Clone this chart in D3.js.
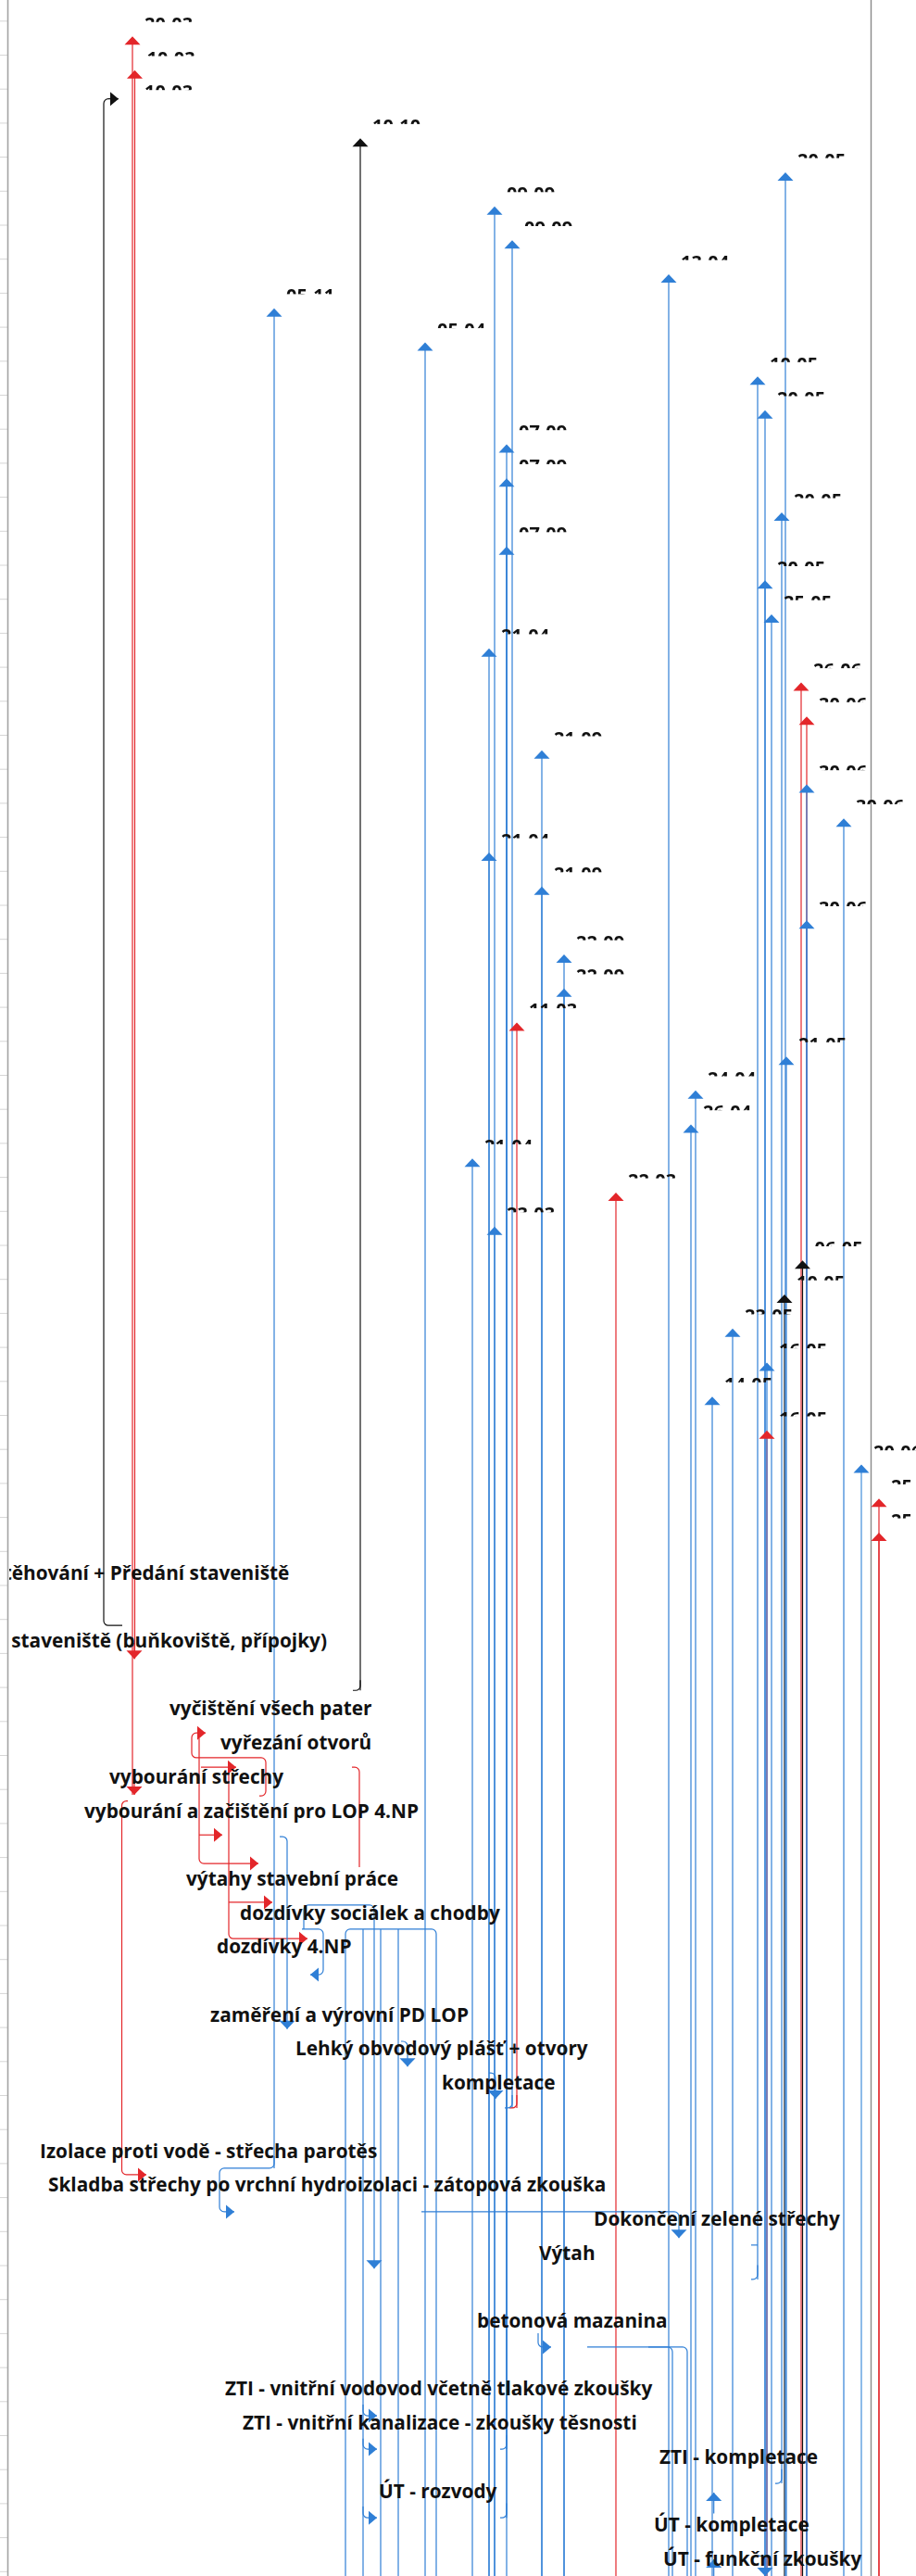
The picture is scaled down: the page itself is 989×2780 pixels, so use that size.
<!DOCTYPE html>
<html>
<head>
<meta charset="utf-8">
<title>Harmonogram - vazby</title>
<script src="https://cdnjs.cloudflare.com/ajax/libs/d3/7.8.5/d3.min.js"></script>
<style>
  body { margin: 0; background: #fff; }
  svg { display: block; }
  text { font-family: "Open Sans", "Noto Sans", sans-serif; font-weight: 700; fill: #111; }
</style>
</head>
<body>
<svg id="chart" width="989" height="2780"></svg>
<script>
// finish dates shown next to the milestone rows (top part of the sheet)
const msDates = ["20-03", "10-03", "10-03", "10-10", "20-05", "09-09", "09-09", "13-04", "05-11", "05-04",
  "10-05", "20-05", "07-09", "07-09", "20-05", "07-09", "20-05", "25-05", "21-04", "26-06",
  "30-06", "21-09", "30-06", "30-06", "21-04", "21-09", "30-06", "22-09", "22-09", "11-03",
  "21-05", "24-04", "26-04", "21-04", "22-03", "23-03", "06-05", "10-05", "23-05", "16-05",
  "14-05", "16-05", "20-06", "25-06", "25-06"];
// position of each milestone on the timeline
const msPos = [143, 145.5, 143, 389, 848, 534, 553, 722, 296, 459,
  818, 826, 547, 547, 844, 547, 826, 833, 528, 865,
  871, 585, 871, 911, 528, 585, 871, 609, 609, 558,
  849, 751, 746, 510, 665, 534, 866.5, 847, 791, 828,
  769, 828, 930, 949, 949];
// c = critical link, n = normal link, l = inactive link, x = external link
const msKind = ["c", "c", "x", "x", "n", "n", "n", "n", "n", "n",
  "n", "n", "n", "n", "n", "n", "n", "n", "n", "c",
  "c", "n", "n", "n", "n", "n", "n", "n", "n", "c",
  "n", "n", "n", "n", "c", "n", "x", "x", "n", "n",
  "n", "c", "l", "c", "c"];
// row where the link line of a milestone ends (76 = below the visible part)
const msEnd = msPos.map(() => 76);
msEnd[0] = 52.17; msEnd[1] = 48.17; msEnd[2] = 2.3; msEnd[3] = 49.1;
msEnd[6] = 61.38; msEnd[8] = 63.15; msEnd[10] = 66.42; msEnd[12] = 71.41;
msEnd[13] = 73.43; msEnd[14] = 72.42; msEnd[29] = 61.38;

// task rows in the lower part
const taskRows = [45, 47, 49, 50, 51, 52, 54, 55, 56, 58, 59, 60, 62, 63, 64, 65, 67, 69, 70, 71, 72, 73, 74];
const taskStart = [-32, -76, 183, 238, 118, 91, 201, 259, 234, 227, 319, 477, 43, 52, 641, 582, 515, 243, 262, 712, 409, 706, 716];
const taskNames = [
  "Vystěhování + Předání staveniště",
  "Zařízení staveniště (buňkoviště, přípojky)",
  "vyčištění všech pater",
  "vyřezání otvorů",
  "vybourání střechy",
  "vybourání a začištění pro LOP 4.NP",
  "výtahy stavební práce",
  "dozdívky sociálek a chodby",
  "dozdívky 4.NP",
  "zaměření a výrovní PD LOP",
  "Lehký obvodový plášť + otvory",
  "kompletace",
  "Izolace proti vodě - střecha parotěs",
  "Skladba střechy po vrchní hydroizolaci - zátopová zkouška",
  "Dokončení zelené střechy",
  "Výtah",
  "betonová mazanina",
  "ZTI - vnitřní vodovod včetně tlakové zkoušky",
  "ZTI - vnitřní kanalizace - zkoušky těsnosti",
  "ZTI - kompletace",
  "ÚT - rozvody",
  "ÚT - kompletace",
  "ÚT - funkční zkoušky"
];

// links between tasks: [timeline, row] points, optional arrow head at the end
const links = [
  { k: "x", p: [[132, 47.19], [112, 47.19], [112, 2.3], [128, 2.3]], h: "right" },
  { k: "x", p: [[389, 48.8], [389, 49.1], [381, 49.1]] },
  { k: "c", p: [[145, 47.7], [145, 48.17]], h: "down" },
  { k: "c", p: [[145, 51.7], [145, 52.17]], h: "down" },
  { k: "c", p: [[138, 52.35], [131.5, 52.35], [131.5, 63.34], [158, 63.34]], h: "right" },
  { k: "c", p: [[280, 52.2], [287, 52.2], [287, 51.08], [207, 51.08], [207, 50.35], [222, 50.35]], h: "right" },
  { k: "c", p: [[215, 50.5], [215, 54.19], [279, 54.19]], h: "right" },
  { k: "c", p: [[215, 53.35], [240, 53.35]], h: "right" },
  { k: "c", p: [[217, 51.36], [255, 51.36]], h: "right" },
  { k: "c", p: [[247, 51.36], [247, 56.4], [332, 56.4]], h: "right" },
  { k: "c", p: [[247, 55.33], [294, 55.33]], h: "right" },
  { k: "c", p: [[380, 51.36], [388, 51.36], [388, 54.3]] },
  { k: "c", p: [[558, 61.0], [558, 61.38], [550, 61.38]] },
  { k: "n", p: [[296, 62.8], [296, 63.15], [237, 63.15], [237, 64.43], [253, 64.43]], h: "right" },
  { k: "n", p: [[302, 53.4], [310, 53.4], [310, 59.06]], h: "down" },
  { k: "n", p: [[328, 56.12], [328, 55.41], [404, 55.41], [404, 66.1]], h: "down" },
  { k: "n", p: [[326, 56.12], [349, 56.12], [349, 57.46], [335, 57.46]], h: "left" },
  { k: "n", p: [[373, 76], [373, 56.12], [471, 56.12], [471, 76]] },
  { k: "n", p: [[392, 76], [392, 56.12]] },
  { k: "n", p: [[411, 76], [411, 56.12]] },
  { k: "n", p: [[430, 76], [430, 56.12]] },
  { k: "n", p: [[433, 59.42], [440, 59.42], [440, 60.16]], h: "down" },
  { k: "n", p: [[528, 60.35], [535, 60.35], [535, 61.11]], h: "down" },
  { k: "n", p: [[553, 61.0], [553, 61.38], [545, 61.38]] },
  { k: "n", p: [[547, 71.0], [547, 71.41], [540, 71.41]] },
  { k: "n", p: [[547, 73.0], [547, 73.43], [540, 73.43]] },
  { k: "n", p: [[455, 64.43], [733, 64.43], [733, 65.2]], h: "down" },
  { k: "n", p: [[811, 65.41], [818, 65.41]] },
  { k: "n", p: [[818, 66.0], [818, 66.42], [811, 66.42]] },
  { k: "n", p: [[581, 68.0], [581, 68.41], [595, 68.41]], h: "right" },
  { k: "n", p: [[634, 68.41], [742, 68.41], [742, 76]] },
  { k: "n", p: [[700, 68.41], [726, 68.41], [726, 76]] },
  { k: "n", p: [[392, 70.1], [392, 70.43], [407, 70.43]], h: "right" },
  { k: "n", p: [[392, 71.1], [392, 71.41], [407, 71.41]], h: "right" },
  { k: "n", p: [[392, 73.1], [392, 73.43], [407, 73.43]], h: "right" },
  { k: "n", p: [[770.7, 73.3], [770.7, 72.69]], h: "up" },
  { k: "n", p: [[770.7, 75.3], [770.7, 74.65]], h: "up" },
  { k: "n", p: [[818, 74.55], [826, 74.55], [826, 75.14]], h: "down" },
  { k: "n", p: [[844, 72.0], [844, 72.42], [837, 72.42]] }
];

const colors = { c: "#e3262a", n: "#2f7fd6", l: "#8dbbe9", x: "#111111" };
const rowCount = 76;

const width = 989, height = 2780;
const svg = d3.select("#chart");

// timeline units across, one unit per row down
const x = d3.scaleLinear().domain([0, 989]).range([0, 989]);
const y = d3.scaleLinear().domain([0, rowCount]).range([22.3, 22.3 + rowCount * 36.7]);

svg.append("rect").attr("width", width).attr("height", height).attr("fill", "#fff");

// left row ticks and sheet borders
const axis = d3.axisLeft(y).tickValues(d3.range(0, rowCount)).tickSize(9).tickSizeOuter(0).tickFormat("");
const axisG = svg.append("g").attr("transform", "translate(9,0)").call(axis);
axisG.select(".domain").remove();
axisG.selectAll("line").attr("stroke", "#d6d6d6");
svg.append("line").attr("x1", 8.5).attr("x2", 8.5).attr("y1", 0).attr("y2", height)
  .attr("stroke", "#a3a3a3").attr("stroke-width", 1.6);
svg.append("line").attr("x1", 940.5).attr("x2", 940.5).attr("y1", 0).attr("y2", height)
  .attr("stroke", "#8a8a8a").attr("stroke-width", 1.4);

// clip for the plot area (labels cut on the left border)
const defs = svg.append("defs");
defs.append("clipPath").attr("id", "plot")
  .append("rect").attr("x", 10).attr("y", 0).attr("width", width).attr("height", height);

// date labels only show the top of the glyphs
const dateClip = defs.append("clipPath").attr("id", "dateclip");
msDates.forEach((d, i) => {
  dateClip.append("rect").attr("x", 0).attr("y", y(i) - 4).attr("width", width).attr("height", 5.5);
});

// rounded elbow path through the points
function elbow(pts, r) {
  const p = pts.map(d => [x(d[0]), y(d[1])]);
  const ctx = d3.path();
  ctx.moveTo(p[0][0], p[0][1]);
  for (let i = 1; i < p.length - 1; i++) {
    ctx.arcTo(p[i][0], p[i][1], p[i + 1][0], p[i + 1][1], r);
  }
  ctx.lineTo(p[p.length - 1][0], p[p.length - 1][1]);
  return ctx.toString();
}

// arrow head with its tip at (px, py)
function head(px, py, dir) {
  const w = 8.5, l = 9;
  if (dir === "up") return `M${px},${py}L${px - w},${py + l}L${px + w},${py + l}Z`;
  if (dir === "down") return `M${px},${py}L${px - w},${py - l}L${px + w},${py - l}Z`;
  if (dir === "right") return `M${px},${py}L${px - l},${py - w + 1}L${px - l},${py + w - 1}Z`;
  return `M${px},${py}L${px + l},${py - w + 1}L${px + l},${py + w - 1}Z`;
}

const ms = msPos.map((p, i) => ({ row: i, pos: p, kind: msKind[i], end: msEnd[i], date: msDates[i] }));
const order = { c: 0, x: 1, l: 2, n: 3 };
const msSorted = ms.slice().sort((a, b) => order[a.kind] - order[b.kind] || a.row - b.row);

const lineG = svg.append("g").attr("fill", "none").attr("stroke-width", 1.2);

// milestone link lines (red below black below blue)
lineG.selectAll("line.ms")
  .data(msSorted.filter(d => d.end > d.row + 0.5))
  .join("line")
  .attr("class", "ms")
  .attr("x1", d => x(d.pos)).attr("x2", d => x(d.pos))
  .attr("y1", d => y(d.row + 0.5) + 4)
  .attr("y2", d => y(d.end))
  .attr("stroke", d => colors[d.kind])
  .attr("stroke-width", d => d.kind === "l" ? 2 : 1.2);

// links between tasks
lineG.selectAll("path.link")
  .data(links)
  .join("path")
  .attr("class", "link")
  .attr("d", d => elbow(d.p, 5))
  .attr("stroke", d => colors[d.k]);

// heads
const headG = svg.append("g");
headG.selectAll("path.mshead")
  .data(ms.filter(d => d.row !== 2))
  .join("path")
  .attr("class", "mshead")
  .attr("d", d => head(x(d.pos), y(d.row + 0.5) - 1.5, "up"))
  .attr("fill", d => d.kind === "l" ? colors.n : colors[d.kind]);

headG.selectAll("path.linkhead")
  .data(links.filter(d => d.h))
  .join("path")
  .attr("class", "linkhead")
  .attr("d", d => {
    const last = d.p[d.p.length - 1];
    return head(x(last[0]), y(last[1]), d.h);
  })
  .attr("fill", d => colors[d.k]);

// date labels
svg.append("g").attr("clip-path", "url(#dateclip)")
  .selectAll("text")
  .data(ms)
  .join("text")
  .attr("x", d => x(d.pos) + 13)
  .attr("y", d => y(d.row) + 10.5)
  .attr("font-size", 20)
  .text(d => d.date);

// task labels
svg.append("g").attr("clip-path", "url(#plot)")
  .selectAll("text")
  .data(taskNames.map((n, i) => ({ name: n, row: taskRows[i], start: taskStart[i] })))
  .join("text")
  .attr("x", d => x(d.start))
  .attr("y", d => y(d.row + 0.5) + 12.5)
  .attr("font-size", 20.8)
  .text(d => d.name);
</script>
</body>
</html>
